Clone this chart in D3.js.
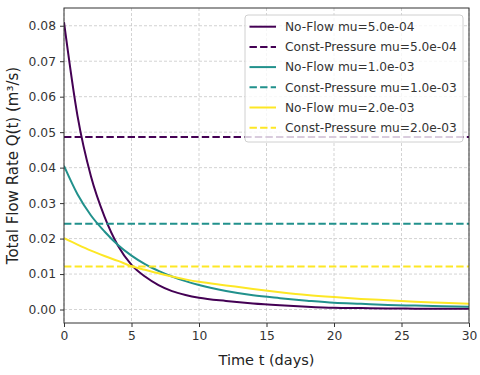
<!DOCTYPE html>
<html>
<head>
<meta charset="utf-8">
<script src="https://cdn.jsdelivr.net/npm/d3@7"></script>
<style>
  html, body { margin: 0; padding: 0; background: #fff; }
  svg { display: block; font-family: "DejaVu Sans", sans-serif; }
</style>
</head>
<body>
<svg id="chart" width="480" height="375"></svg>
<script>
// ---- data ----
const timeDays = [0,1,2,3,4,5,6,7,8,9,10,12,14,16,18,20,22,24,26,28,30];
const noFlowMu5e4 = [0.0810,0.0546,0.0375,0.0262,0.0180,0.0126,0.0093,0.0069,0.0052,0.0041,0.0033,0.0024,0.0017,0.0012,0.0008,0.0005,0.0004,0.0003,0.00025,0.0002,0.0002];
const noFlowMu1e3 = [0.0405,0.0325,0.0265,0.0220,0.0182,0.0152,0.0128,0.0109,0.0093,0.0080,0.0069,0.0052,0.0040,0.0032,0.0025,0.0019,0.0016,0.0013,0.0011,0.0009,0.0008];
const noFlowMu2e3 = [0.0201,0.0183,0.0166,0.0151,0.0137,0.0122,0.0112,0.0102,0.0093,0.0085,0.0078,0.0068,0.0058,0.0049,0.0041,0.0035,0.0030,0.0026,0.0022,0.0019,0.0016];
const constPressure = [0.0486, 0.0242, 0.0121];
const seriesLabels = ["5.0e-04","1.0e-03","2.0e-03"];
const seriesColors = ["#440154","#21918c","#fde725"];
const xTicks = [0,5,10,15,20,25,30];
const yTicks = [0.00,0.01,0.02,0.03,0.04,0.05,0.06,0.07,0.08];

// ---- layout ----
const W = 480, H = 375;
const m = {left: 64, right: 11, top: 8, bottom: 52};
const iw = W - m.left - m.right, ih = H - m.top - m.bottom;
const svg = d3.select("#chart");
const g = svg.append("g").attr("transform", `translate(${m.left},${m.top})`);

const x = d3.scaleLinear().domain([0,30]).range([0, iw]);
const y = d3.scaleLinear().domain([-0.0038, 0.0850]).range([ih, 0]);

// grid
const grid = g.append("g");
grid.selectAll(".gx").data(xTicks).join("line")
  .attr("x1", d => x(d)).attr("x2", d => x(d)).attr("y1", 0).attr("y2", ih)
  .attr("stroke", "#c8c8c8").attr("stroke-width", 0.8).attr("stroke-dasharray", "3,2");
grid.selectAll(".gy").data(yTicks).join("line")
  .attr("x1", 0).attr("x2", iw).attr("y1", d => y(d)).attr("y2", d => y(d))
  .attr("stroke", "#c8c8c8").attr("stroke-width", 0.8).attr("stroke-dasharray", "3,2");

// lines
const allNoFlow = [noFlowMu5e4, noFlowMu1e3, noFlowMu2e3];
const line = d3.line().x(d => x(d[0])).y(d => y(d[1])).curve(d3.curveMonotoneX);
svg.append("clipPath").attr("id", "clip").append("rect").attr("width", iw).attr("height", ih);
const lines = g.append("g").attr("clip-path", "url(#clip)");
allNoFlow.forEach((vals, i) => {
  lines.append("path")
    .datum(timeDays.map((t, j) => [t, vals[j]]))
    .attr("fill", "none").attr("stroke", seriesColors[i]).attr("stroke-width", 2)
    .attr("d", line);
  lines.append("line")
    .attr("x1", x(0)).attr("x2", x(30))
    .attr("y1", y(constPressure[i])).attr("y2", y(constPressure[i]))
    .attr("stroke", seriesColors[i]).attr("stroke-width", 2)
    .attr("stroke-dasharray", "7.4,3.2");
});

// axes
const xAxis = d3.axisBottom(x).tickValues(xTicks).tickFormat(d3.format("d")).tickSizeOuter(0).tickSize(4).tickPadding(4);
const yAxis = d3.axisLeft(y).tickValues(yTicks).tickFormat(d3.format(".2f")).tickSizeOuter(0).tickSize(4).tickPadding(4);
const gx = g.append("g").attr("transform", `translate(0,${ih})`).call(xAxis);
const gy = g.append("g").call(yAxis);
[gx, gy].forEach(a => {
  a.select(".domain").remove();
  a.selectAll(".tick line").attr("stroke", "#333");
  a.selectAll(".tick text").attr("fill", "#333").attr("font-size", 12.3).attr("font-family", "DejaVu Sans, sans-serif");
});

// frame
g.append("rect").attr("width", iw).attr("height", ih).attr("fill", "none").attr("stroke", "#333").attr("stroke-width", 1);

// axis labels
svg.append("text").attr("x", m.left + iw/2).attr("y", 365).attr("text-anchor", "middle")
  .attr("font-size", 14.5).attr("fill", "#222").text("Time t (days)");
svg.append("text").attr("transform", `translate(17.5,${m.top + ih/2}) rotate(-90)`).attr("text-anchor", "middle")
  .attr("font-size", 15).attr("fill", "#222").text("Total Flow Rate Q(t) (m³/s)");

// legend
const lg = svg.append("g").attr("transform", "translate(245,15)");
lg.append("rect").attr("width", 218).attr("height", 127).attr("rx", 3)
  .attr("fill", "#fff").attr("fill-opacity", 0.8).attr("stroke", "#d0d0d0").attr("stroke-width", 1);
const entries = [];
seriesLabels.forEach((s, i) => {
  entries.push({label: `No-Flow mu=${s}`, color: seriesColors[i], dash: null});
  entries.push({label: `Const-Pressure mu=${s}`, color: seriesColors[i], dash: "7.4,3.2"});
});
entries.forEach((e, i) => {
  const yy = 11.7 + i * 20.2;
  lg.append("line").attr("x1", 4.5).attr("x2", 31).attr("y1", yy).attr("y2", yy)
    .attr("stroke", e.color).attr("stroke-width", 2).attr("stroke-dasharray", e.dash);
  lg.append("text").attr("x", 40).attr("y", yy).attr("dy", "0.35em")
    .attr("font-size", 12.2).attr("fill", "#333").text(e.label);
});
</script>
</body>
</html>
